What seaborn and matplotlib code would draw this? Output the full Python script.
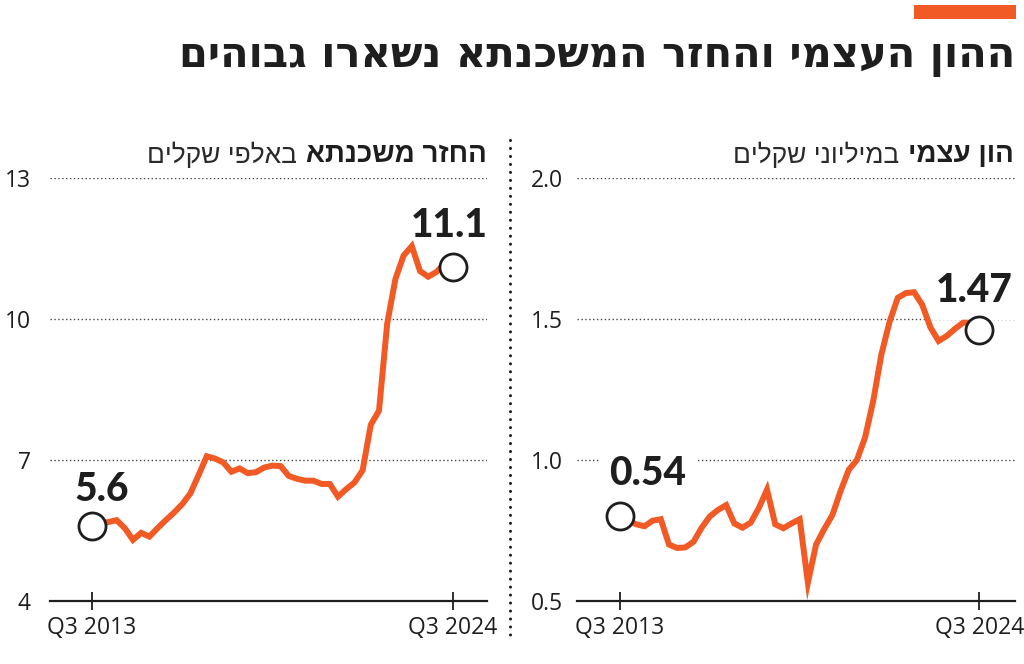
import numpy as np
import pandas as pd
import matplotlib
matplotlib.use("Agg")
import matplotlib.pyplot as plt
import seaborn as sns
from matplotlib import font_manager
from matplotlib.lines import Line2D
from matplotlib.patches import Rectangle


# --------------------------------------------------------------------------------
# Data, quarterly Q3 2013 .. Q3 2024
# --------------------------------------------------------------------------------
quarters = pd.period_range("2013Q3", "2024Q3", freq="Q")

mortgage = [5.60, 5.65, 5.68, 5.72, 5.55, 5.30, 5.45, 5.37, 5.55, 5.72,
            5.88, 6.06, 6.29, 6.68, 7.08, 7.03, 6.95, 6.75, 6.82, 6.72,
            6.74, 6.84, 6.88, 6.87, 6.66, 6.60, 6.56, 6.56, 6.49, 6.49,
            6.22, 6.38, 6.52, 6.78, 7.75, 8.05, 9.90, 10.85, 11.35, 11.55,
            11.02, 10.90, 11.00, 11.18, 11.10]

equity = [0.800, 0.785, 0.772, 0.765, 0.785, 0.790, 0.700, 0.688, 0.690, 0.710,
          0.760, 0.800, 0.823, 0.840, 0.775, 0.760, 0.778, 0.830, 0.895, 0.772,
          0.758, 0.775, 0.790, 0.565, 0.700, 0.755, 0.805, 0.890, 0.965, 1.000,
          1.080, 1.210, 1.375, 1.490, 1.575, 1.592, 1.595, 1.550, 1.470, 1.422,
          1.440, 1.465, 1.487, 1.487, 1.460]

mortgage_ends = ["5.6", "11.1"]
equity_ends   = ["0.54", "1.47"]

mortgage_yticks = [4, 7, 10, 13]
equity_yticks   = [0.5, 1.0, 1.5, 2.0]
equity_ylabels  = ["0.5", "1.0", "1.5", "2.0"]
x_ticklabels    = ["Q3 2013", "Q3 2024"]

title          = "ההון העצמי והחזר המשכנתא נשארו גבוהים"
mortgage_title = ("החזר משכנתא", "באלפי שקלים")
equity_title   = ("הון עצמי", "במיליוני שקלים")

ORANGE = "#F15A24"
INK    = "#1e1e1e"


# --------------------------------------------------------------------------------
# Fonts
# --------------------------------------------------------------------------------
available = {f.name for f in font_manager.fontManager.ttflist}

def pick(*names):
    return [n for n in names if n in available] + ["DejaVu Sans"]

def rtl(s):
    # matplotlib has no bidi support -> reverse Hebrew by hand
    return s[::-1]

narrow     = "Liberation Sans Narrow" in available
tick_font  = pick("Liberation Sans Narrow", "Open Sans")
tick_size  = 18 if narrow else 16.5
heb_font   = pick("Liberation Sans")
num_font   = pick("Lato")

sns.set_theme(style="white")
plt.rcParams["font.family"] = ["DejaVu Sans"]

df = pd.DataFrame({"q": np.arange(len(quarters)), "mortgage": mortgage, "equity": equity})
ends = [0, len(quarters) - 1]

W, H = 1024, 664
fig = plt.figure(figsize=(W / 100, H / 100), dpi=100)

def px_box(x0, x1, y0, y1):
    return [x0 / W, 1 - y1 / H, (x1 - x0) / W, (y1 - y0) / H]


# ================================================================================
# One panel
# ================================================================================
def panel(rect, col, yticks, ylabels, ylim, xlim, end_labels, offsets, ypad, boxed):
    ax = fig.add_axes(rect)
    sns.lineplot(data=df, x="q", y=col, ax=ax, color=ORANGE, linewidth=4.3,
                 zorder=3, solid_joinstyle="miter")
    sns.scatterplot(x=df["q"].iloc[ends], y=df[col].iloc[ends], ax=ax, s=380,
                    facecolor="white", edgecolor=INK, linewidth=2.0, zorder=4)

    ax.set_xlim(*xlim)
    ax.set_ylim(*ylim)
    for y in yticks[1:]:
        ax.axhline(y, color="#444444", linewidth=1.0, linestyle=(0, (1, 1.8)), zorder=0.5)

    ax.set_yticks(yticks)
    ax.set_yticklabels(ylabels, fontsize=tick_size, family=tick_font, color=INK)
    ax.set_xticks(ends)
    ax.set_xticklabels(x_ticklabels, fontsize=tick_size, family=tick_font, color=INK)
    ax.tick_params(axis="y", left=False, length=0, pad=ypad)
    ax.tick_params(axis="x", bottom=True, direction="inout", length=13, width=1.3,
                   color=INK, pad=4)

    for s in ["left", "right", "top"]:
        ax.spines[s].set_visible(False)
    ax.spines["bottom"].set_color(INK)
    ax.spines["bottom"].set_linewidth(1.6)
    ax.set_xlabel("")
    ax.set_ylabel("")
    ax.grid(False)

    for i, txt, off in zip(ends, end_labels, offsets):
        bb = dict(boxstyle="square,pad=0.28", fc="white", ec="none") if boxed else None
        ax.annotate(txt, xy=(i, df[col].iloc[i]), xytext=off, textcoords="offset pixels",
                    ha="center", va="center", fontsize=28, fontweight="black",
                    family=num_font, color=INK, bbox=bb, zorder=2.5)
    return ax


ax1 = panel(px_box(50, 487, 178, 601), "mortgage", mortgage_yticks,
            [str(v) for v in mortgage_yticks], (4, 13), (-5.12, 48.17),
            mortgage_ends, [(10, 36), (-4, 42)], 14, False)
ax2 = panel(px_box(577, 1015, 178, 601), "equity", equity_yticks,
            equity_ylabels, (0.5, 2.0), (-5.26, 48.35),
            equity_ends, [(28, 43), (-5, 40)], 10, True)


# ================================================================================
# Titles, separator, orange bar
# ================================================================================
fig.text(1015 / W, 1 - 67 / H, rtl(title), ha="right", va="baseline",
         fontsize=30, fontweight="bold", family=["DejaVu Sans"], color=INK)

for x_right, (bold, light) in [(487, mortgage_title), (1014, equity_title)]:
    t = fig.text(x_right / W, 1 - 162 / H, rtl(bold), ha="right", va="baseline",
                 fontsize=20, fontweight="bold", family=heb_font, color=INK)
    plt.annotate(rtl(light), xy=(0, 0), xycoords=t, xytext=(-9, 0),
                 textcoords="offset pixels", ha="right", va="bottom",
                 fontsize=19, family=heb_font, color="#2a2a2a",
                 annotation_clip=False)

fig.add_artist(Line2D([510 / W, 510 / W], [1 - 140 / H, 1 - 638 / H],
                      transform=fig.transFigure, color=INK, linewidth=2.2,
                      linestyle=(0, (0.01, 2.6)), dash_capstyle="round"))

fig.add_artist(Rectangle((914 / W, 1 - 19 / H), 102 / W, 14 / H,
                         transform=fig.transFigure, color=ORANGE, linewidth=0))

fig.savefig("out.png", dpi=100)
